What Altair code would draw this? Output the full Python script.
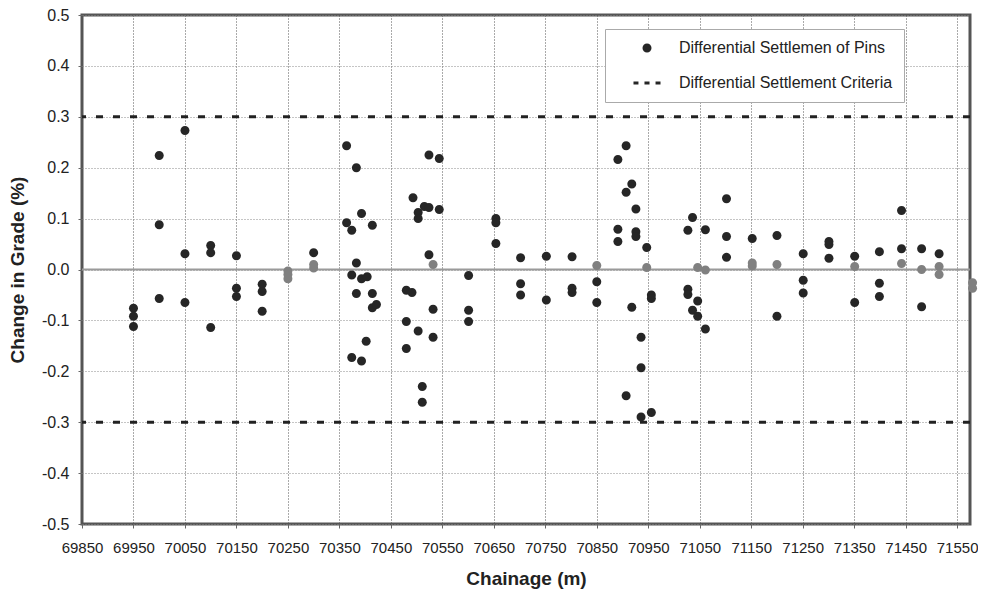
import altair as alt
import pandas as pd

# ---- data ----
pin_chainage = [
    69950, 69950, 69950,
    70000, 70000, 70000,
    70050, 70050, 70050,
    70100, 70100, 70100,
    70150, 70150, 70150,
    70200, 70200, 70200,
    70300,
    70364, 70364, 70374, 70374, 70374, 70383, 70383, 70383,
    70393, 70393, 70393, 70402, 70404, 70414, 70414, 70414, 70422,
    70480, 70480, 70480, 70491, 70493, 70503, 70503, 70503,
    70511, 70511, 70515, 70524, 70524, 70524, 70532, 70532, 70544, 70544,
    70601, 70601, 70601,
    70654, 70654, 70654,
    70702, 70702, 70702,
    70752, 70752,
    70802, 70802, 70802,
    70850, 70850,
    70891, 70891, 70891, 70907, 70907, 70907, 70918, 70918,
    70926, 70926, 70926, 70936, 70936, 70936, 70947, 70956, 70956, 70956,
    71027, 71027, 71027, 71036, 71036, 71046, 71046, 71061, 71061,
    71102, 71102, 71102,
    71152,
    71200, 71200,
    71251, 71251, 71251,
    71301, 71301, 71301,
    71351, 71351,
    71399, 71399, 71399,
    71442, 71442,
    71481, 71481,
    71515,
]
pin_change = [
    -0.076, -0.092, -0.112,
    0.224, 0.088, -0.057,
    0.273, 0.031, -0.065,
    0.047, 0.033, -0.114,
    0.027, -0.037, -0.053,
    -0.029, -0.043, -0.082,
    0.033,
    0.243, 0.092, 0.077, -0.011, -0.173, 0.200, 0.013, -0.047,
    0.110, -0.018, -0.180, -0.141, -0.014, 0.087, -0.047, -0.075, -0.069,
    -0.041, -0.102, -0.155, -0.045, 0.141, 0.112, 0.100, -0.121,
    -0.230, -0.261, 0.124, 0.122, 0.225, 0.029, -0.078, -0.133, 0.118, 0.218,
    -0.012, -0.080, -0.102,
    0.100, 0.092, 0.051,
    0.023, -0.028, -0.050,
    0.026, -0.060,
    0.025, -0.037, -0.045,
    -0.024, -0.065,
    0.216, 0.079, 0.055, 0.243, 0.152, -0.248, 0.168, -0.074,
    0.119, 0.074, 0.065, -0.133, -0.193, -0.290, 0.043, -0.050, -0.057, -0.281,
    0.077, -0.039, -0.049, 0.102, -0.080, -0.062, -0.092, 0.078, -0.117,
    0.139, 0.065, 0.024,
    0.061,
    0.067, -0.092,
    0.031, -0.021, -0.046,
    0.055, 0.049, 0.022,
    0.026, -0.065,
    0.035, -0.027, -0.053,
    0.116, 0.041,
    0.041, -0.073,
    0.031,
]

grey_chainage = [70250, 70250, 70250, 70300, 70300, 70532, 70850, 70947, 71046,
                 71061, 71152, 71152, 71200, 71351, 71442, 71481, 71515, 71515,
                 71580, 71580]
grey_change = [-0.003, -0.010, -0.018, 0.010, 0.003, 0.010, 0.008, 0.004, 0.004,
               -0.001, 0.013, 0.007, 0.010, 0.006, 0.012, 0.000, 0.006, -0.010,
               -0.026, -0.037]

criteria_values = [0.3, -0.3]
x_tick_values = list(range(69850, 71551, 100))
y_tick_values = [-0.5, -0.4, -0.3, -0.2, -0.1, 0.0, 0.1, 0.2, 0.3, 0.4, 0.5]

PIN_LABEL = "Differential Settlemen of Pins"
CRIT_LABEL = "Differential Settlement Criteria"

pins = pd.DataFrame({"chainage": pin_chainage, "change": pin_change, "series": PIN_LABEL})
greys = pd.DataFrame({"chainage": grey_chainage, "change": grey_change})
crit = pd.DataFrame({"change": criteria_values})
zero = pd.DataFrame({"change": [0.0]})

FONT = "Liberation Sans"
circle_path = "M-0.643,0A0.643,0.643,0,1,0,0.643,0A0.643,0.643,0,1,0,-0.643,0Z"
dash_path = ("M-1.93,-0.22H-1.22V0.22H-1.93Z "
             "M-0.36,-0.22H0.36V0.22H-0.36Z "
             "M1.22,-0.22H1.93V0.22H1.22Z")

x_scale = alt.Scale(domain=[69850, 71575], nice=False, zero=False)
y_scale = alt.Scale(domain=[-0.5, 0.5], nice=False, zero=False)

x_axis = alt.Axis(values=x_tick_values, format="d", title="Chainage (m)",
                  labelFlush=False, labelOverlap=False, labelPadding=12,
                  labelFontSize=15,
                  titlePadding=14, gridColor="#555", gridDash=[1, 2])
y_axis = alt.Axis(values=y_tick_values, title="Change in Grade (%)",
                  labelExpr="replace(format(datum.value, '.1f'), '\u2212', '-')",
                  labelFlush=False, labelPadding=9, titlePadding=14,
                  gridColor="#8a8a8a", gridDash=[1, 2])

xenc = alt.X("chainage:Q", scale=x_scale, axis=x_axis)
yenc = alt.Y("change:Q", scale=y_scale, axis=y_axis)

zero_rule = alt.Chart(zero).mark_rule(color="#9a9a9a", strokeWidth=2).encode(y=yenc)
crit_rule = alt.Chart(crit).mark_rule(color="#222222", strokeWidth=3, strokeDash=[7, 10]).encode(y=yenc)

grey_pts = alt.Chart(greys).mark_point(filled=True, size=196, shape=circle_path,
                                       color="#808080", opacity=1).encode(x=xenc, y=yenc)

pin_pts = alt.Chart(pins).mark_point(filled=True, size=196, color="#262626", opacity=1).encode(
    x=xenc, y=yenc,
    shape=alt.Shape("series:N",
                    scale=alt.Scale(domain=[PIN_LABEL, CRIT_LABEL], range=[circle_path, dash_path]),
                    legend=alt.Legend(orient="none", legendX=523, legendY=14, title=None,
                                      padding=11, symbolOffset=23, labelOffset=24,
                                      rowPadding=19, labelFont=FONT, labelFontSize=16,
                                      labelColor="#222222", labelLimit=400,
                                      fillColor="white", strokeColor="#aaaaaa",
                                      symbolSize=196, symbolStrokeWidth=0)),
)

chart = alt.layer(zero_rule, crit_rule, grey_pts, pin_pts).properties(
    width=888, height=509,
    autosize="none",
    padding={"left": 74, "top": 7, "right": 8, "bottom": 67},
    background="white",
).configure_view(
    stroke="#555555", strokeWidth=3
).configure_axis(
    domain=False, grid=True, gridWidth=1,
    ticks=True, tickSize=4, tickColor="#666666",
    labelFont=FONT, labelFontSize=16, labelColor="#222222",
    titleFont=FONT, titleFontSize=19, titleFontWeight="bold", titleColor="#222222",
)

chart.save("out.html", embed_options={"renderer": "svg", "actions": False})
